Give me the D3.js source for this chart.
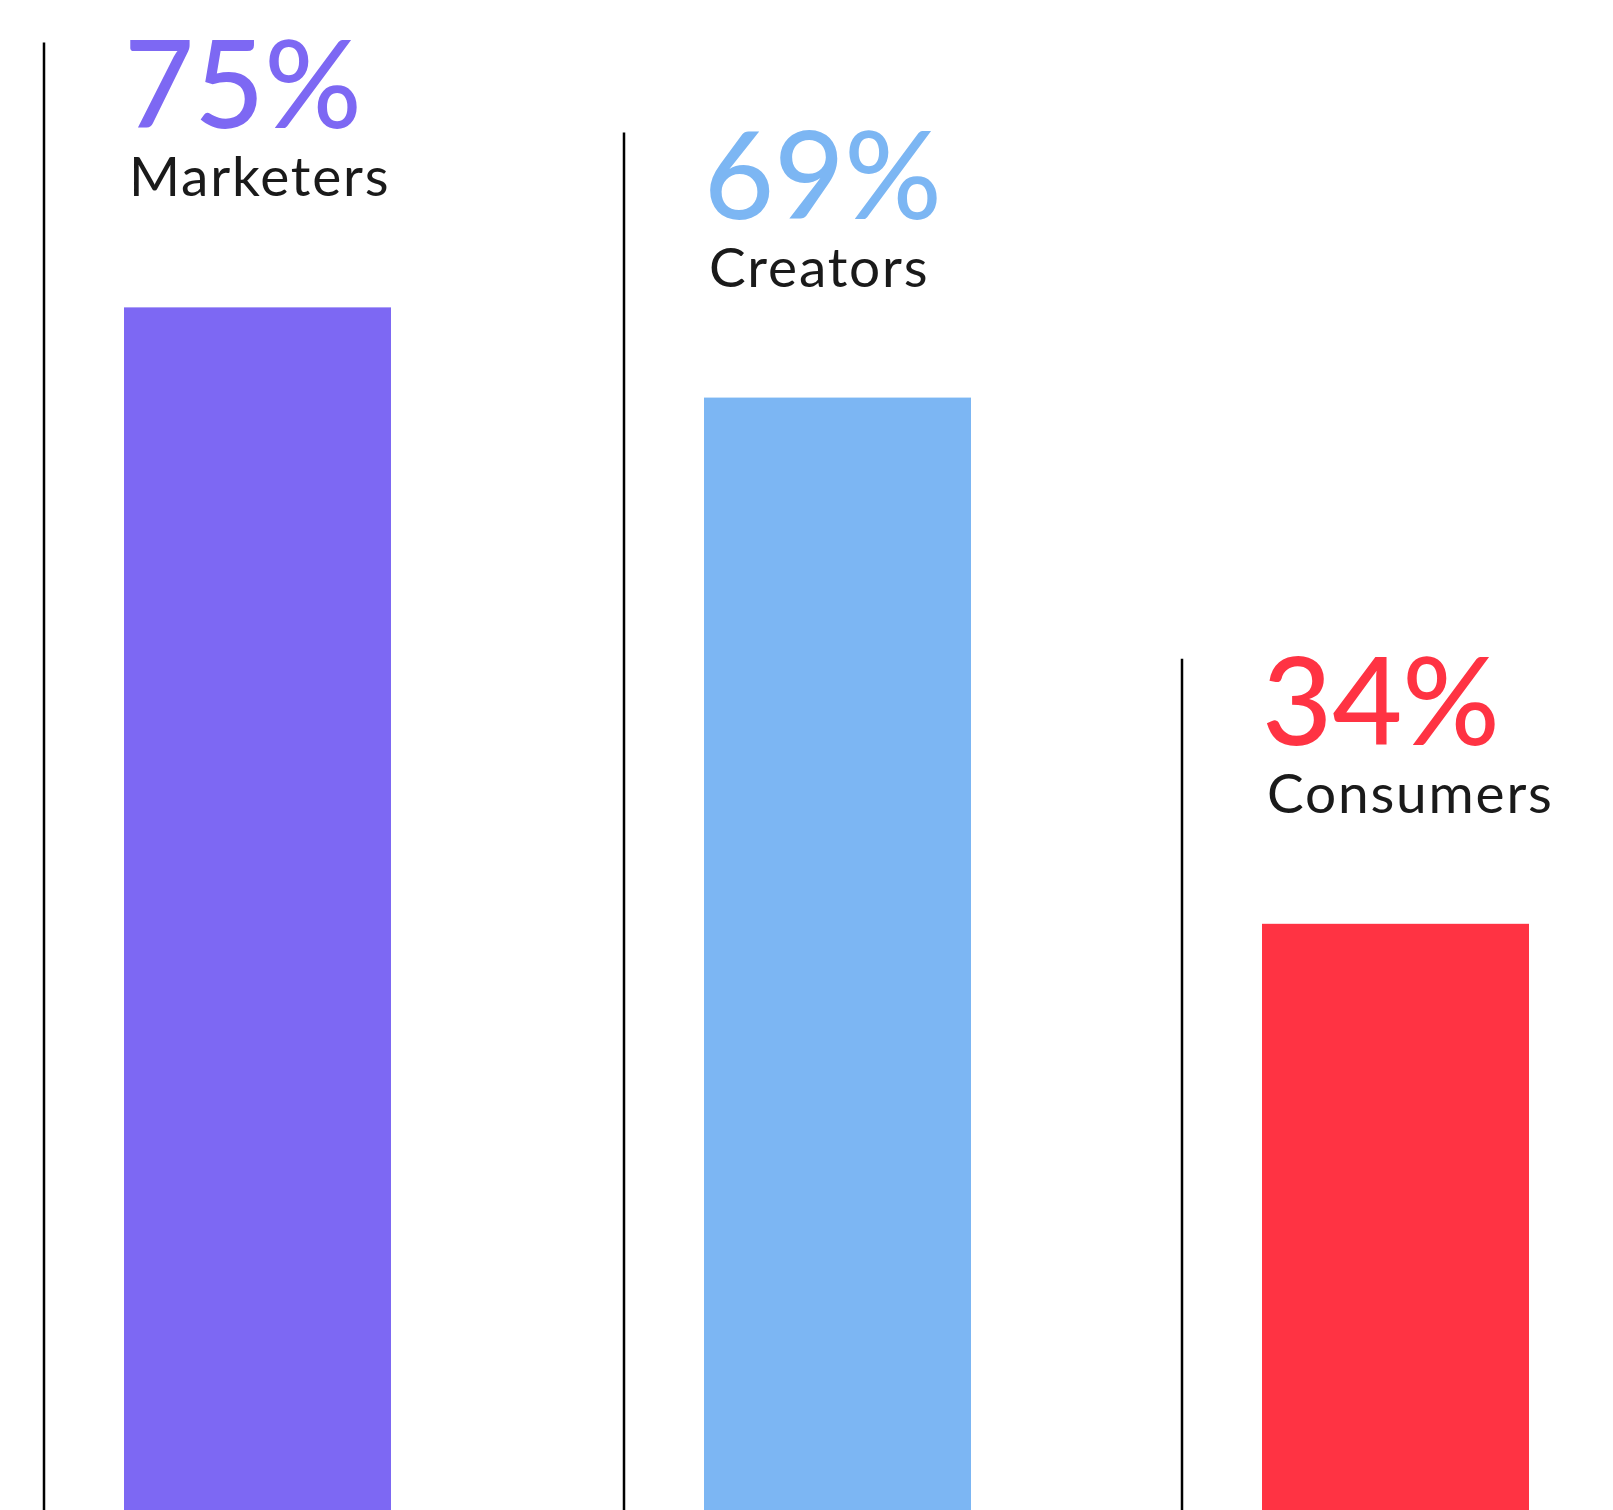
<!DOCTYPE html>
<html>
<head>
<meta charset="utf-8">
<script src="https://cdn.jsdelivr.net/npm/d3@7"></script>
<style>
  html, body { margin: 0; padding: 0; background: #ffffff; }
  svg { display: block; }
</style>
</head>
<body>
<svg id="chart"></svg>
<script>
// Share of each group, in percent
const categories = ["Marketers", "Creators", "Consumers"];
const values = [75, 69, 34];
const valueLabels = ["75%", "69%", "34%"];
const colors = ["#7d68f3", "#7cb6f3", "#ff3343"];

const width = 1613, height = 1510;
const svg = d3.select("#chart").attr("width", width).attr("height", height);

// Each column starts at a thin rule; the bar sits to its right
const x = d3.scaleOrdinal().domain(categories).range([44, 624, 1182]);
const y = d3.scaleLinear().domain([0, 100]).range([1435, -68.5]);

const barOffset = 80, barWidth = 267;
const ruleAbove = 265;   // rule rises this far above the bar top

const data = categories.map((c, i) => ({ c, v: values[i], label: valueLabels[i], color: colors[i] }));

const col = svg.selectAll("g.col").data(data).join("g").attr("class", "col");

col.append("line")
  .attr("x1", d => x(d.c)).attr("x2", d => x(d.c))
  .attr("y1", d => y(d.v) - ruleAbove).attr("y2", height)
  .attr("stroke", "#000").attr("stroke-width", 2.5);

col.append("rect")
  .attr("x", d => x(d.c) + barOffset)
  .attr("y", d => y(d.v))
  .attr("width", barWidth)
  .attr("height", d => height - y(d.v))
  .attr("fill", d => d.color);

col.append("text")
  .attr("x", d => x(d.c) + barOffset)
  .attr("y", d => y(d.v) - ruleAbove + 86)
  .attr("font-family", "Lato, 'Open Sans', sans-serif")
  .attr("font-size", 121)
  .attr("font-weight", 500)
  .attr("fill", d => d.color)
  .text(d => d.label);

col.append("text")
  .attr("x", d => x(d.c) + barOffset + 5)
  .attr("y", d => y(d.v) - ruleAbove + 154)
  .attr("font-family", "Lato, 'Open Sans', sans-serif")
  .attr("font-size", 55)
  .attr("letter-spacing", 1.8)
  .attr("fill", "#1a1a1a")
  .text(d => d.c);
</script>
</body>
</html>
